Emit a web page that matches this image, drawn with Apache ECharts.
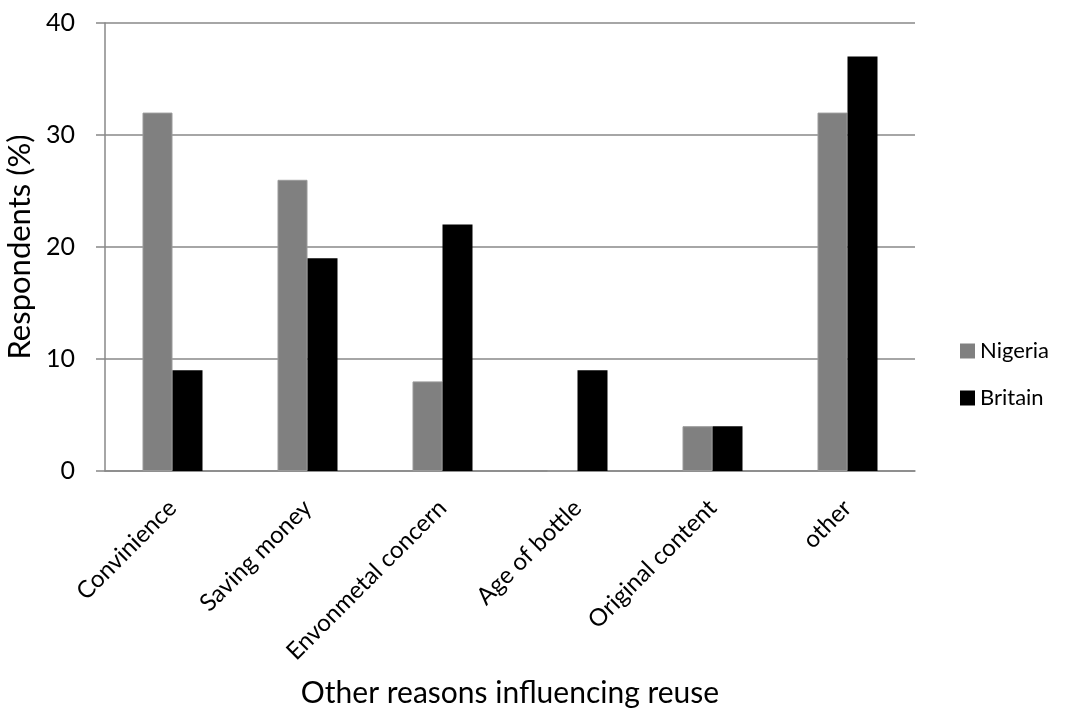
<!DOCTYPE html>
<html>
<head>
<meta charset="utf-8">
<script src="https://cdn.jsdelivr.net/npm/echarts@6/dist/echarts.min.js"></script>
<style>html,body{margin:0;padding:0;background:#fff}#c{width:1071px;height:725px}</style>
</head>
<body>
<div id="c"></div>
<script>
const categories = ['Convinience', 'Saving money', 'Envonmetal concern', 'Age of bottle', 'Original content', 'other'];
const nigeria = [32, 26, 8, 0, 4, 32];
const britain = [9, 19, 22, 9, 4, 37];
const seriesNames = ['Nigeria', 'Britain'];
const yTicks = [0, 10, 20, 30, 40];

const FONT = 'Lato, "Open Sans", sans-serif';
const chart = echarts.init(document.getElementById('c'));
chart.setOption({
  animation: false,
  backgroundColor: '#fff',
  grid: { left: 105, right: 156, top: 23, bottom: 254, containLabel: false, outerBoundsMode: 'none' },
  legend: {
    orient: 'vertical',
    left: 955, top: 335,
    itemWidth: 15, itemHeight: 15, itemGap: 25,
    itemStyle: { borderWidth: 0 },
    icon: 'rect',
    textStyle: { fontFamily: FONT, fontSize: 22, color: '#000' },
    data: seriesNames
  },
  xAxis: {
    type: 'category',
    data: categories,
    axisLine: { show: true, lineStyle: { color: '#888', width: 1.5 } },
    axisTick: { show: false },
    axisLabel: { rotate: 45, interval: 0, fontFamily: FONT, fontSize: 24, color: '#000', margin: 33 },
    name: 'Other reasons influencing reuse',
    nameLocation: 'middle',
    nameGap: 207,
    nameTextStyle: { fontFamily: FONT, fontSize: 30, color: '#000' }
  },
  yAxis: {
    type: 'value',
    min: 0, max: 40, interval: 10,
    axisLine: { show: true, lineStyle: { color: '#888', width: 1.5 } },
    axisTick: { show: true, length: 9, lineStyle: { color: '#888', width: 1.5 } },
    splitLine: { show: true, lineStyle: { color: '#888', width: 1.5 } },
    axisLabel: {
      fontFamily: FONT, fontSize: 25, color: '#000', margin: 30,
      formatter: v => yTicks.includes(v) ? String(v) : ''
    },
    name: 'Respondents (%)',
    nameLocation: 'middle',
    nameGap: 57,
    nameTextStyle: { fontFamily: FONT, fontSize: 31, color: '#000' }
  },
  series: [
    { name: seriesNames[0], type: 'bar', data: nigeria, barWidth: 30, barGap: '0%',
      itemStyle: { color: '#808080', borderColor: '#9a9a9a', borderWidth: 1 } },
    { name: seriesNames[1], type: 'bar', data: britain, barWidth: 30, barGap: '0%',
      itemStyle: { color: '#000000' } }
  ]
});
</script>
</body>
</html>
